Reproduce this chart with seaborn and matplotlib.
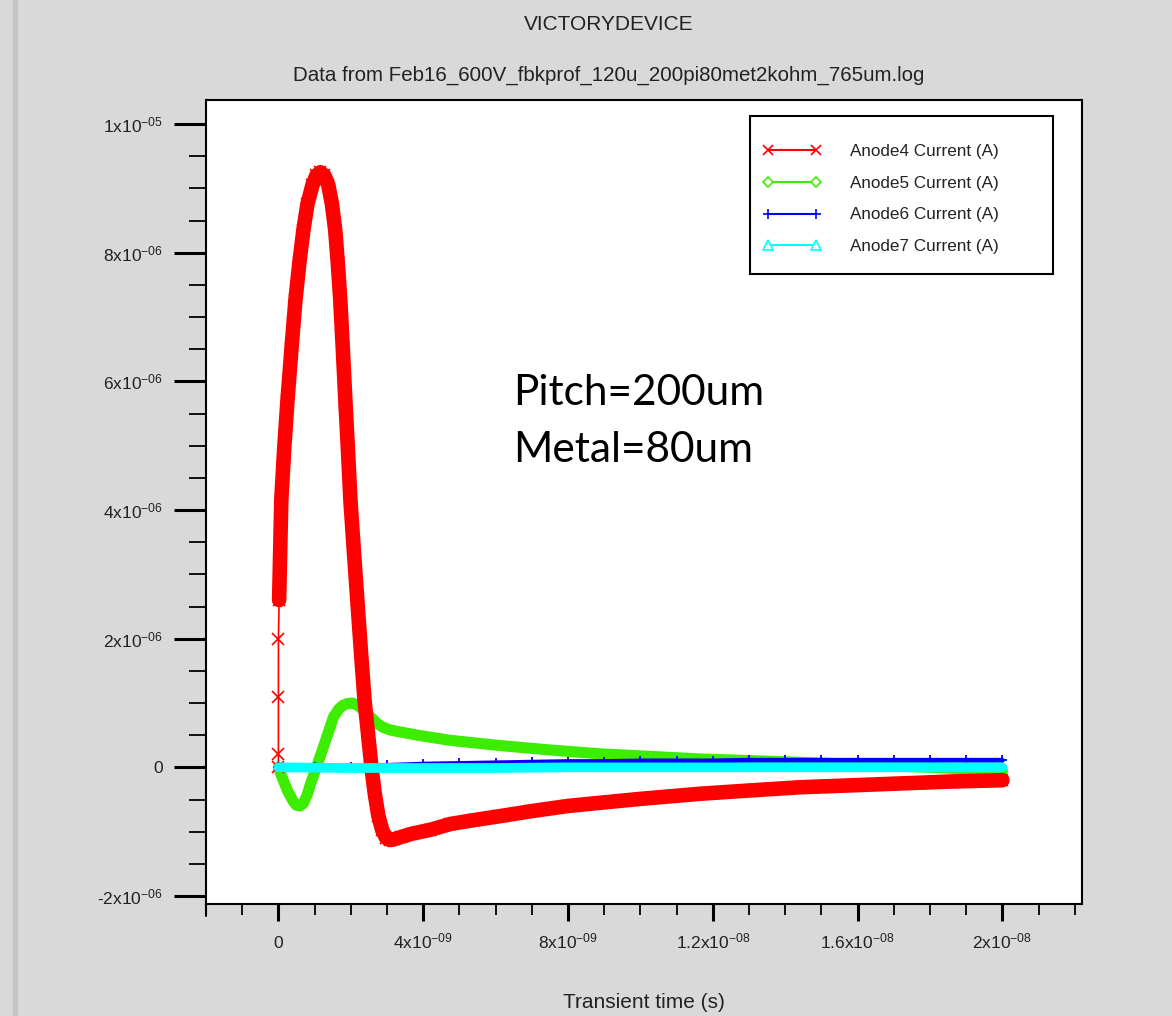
import numpy as np
import pandas as pd
import matplotlib
matplotlib.use("Agg")
import matplotlib.pyplot as plt
from matplotlib.lines import Line2D
from matplotlib.patches import Rectangle
from matplotlib.ticker import MultipleLocator, FuncFormatter
import seaborn as sns

# ---- transient currents (time in ns, current in uA) ----
anode4_t = [0.0, 0.0005, 0.001, 0.0015, 0.02, 0.08, 0.16, 0.25, 0.36, 0.47, 0.58,
            0.69, 0.80, 0.94, 1.05, 1.16, 1.27, 1.38, 1.48, 1.57, 1.64, 1.71, 1.78,
            1.85, 1.92, 1.99, 2.08, 2.18, 2.28, 2.38, 2.48, 2.57, 2.66, 2.76, 2.87,
            2.98, 3.08, 3.18, 3.40, 3.70, 4.20, 4.75, 5.40, 6.10, 7.00, 8.00, 8.90,
            10.0, 11.66, 13.0, 14.4, 15.8, 17.2, 18.6, 20.0]
anode4_i = [0.0, 0.2, 1.1, 2.0, 2.6, 4.15, 4.95, 5.7, 6.5, 7.26, 7.85,
            8.35, 8.75, 9.05, 9.2, 9.25, 9.2, 9.05, 8.75, 8.35, 7.85, 7.26, 6.5,
            5.7, 4.95, 4.15, 3.4, 2.6, 1.8, 1.04, 0.5, 0.0, -0.4, -0.75, -0.98,
            -1.1, -1.13, -1.12, -1.08, -1.03, -0.97, -0.88, -0.82, -0.76, -0.68, -0.6, -0.55,
            -0.49, -0.41, -0.36, -0.31, -0.28, -0.25, -0.22, -0.2]

anode5_t = [0.0, 0.12, 0.25, 0.40, 0.50, 0.60, 0.69, 0.80, 0.88, 1.08, 1.30, 1.52,
            1.66, 1.77, 1.90, 2.04, 2.20, 2.35, 2.55, 2.73, 2.90, 3.09, 3.84, 4.75,
            6.1, 7.5, 8.9, 10.3, 11.66, 13.3, 15.8, 18.0, 20.0]
anode5_i = [0.0, -0.18, -0.36, -0.52, -0.59, -0.6, -0.56, -0.42, -0.27, 0.05, 0.41, 0.78,
            0.9, 0.96, 0.99, 1.0, 0.96, 0.89, 0.78, 0.68, 0.62, 0.58, 0.5, 0.42,
            0.34, 0.27, 0.21, 0.17, 0.13, 0.1, 0.05, 0.0, -0.05]

anode6_t = [0.0, 1.0, 2.0, 3.0, 4.0, 5.0, 6.0, 7.0, 8.0, 9.0, 10.0, 11.0, 12.0,
            13.0, 14.0, 15.0, 16.0, 17.0, 18.0, 19.0, 20.0]
anode6_i = [0.0, 0.0, 0.01, 0.03, 0.05, 0.06, 0.07, 0.08, 0.09, 0.09, 0.1, 0.1, 0.1,
            0.11, 0.11, 0.11, 0.11, 0.11, 0.11, 0.11, 0.11]

anode7_t = [0.0, 2.0, 4.0, 6.0, 8.0, 10.0, 12.0, 14.0, 16.0, 18.0, 20.0]
anode7_i = [0.0, -0.01, -0.01, -0.01, 0.0, 0.0, 0.0, 0.0, 0.0, 0.0, 0.0]

series_labels = ["Anode4 Current (A)", "Anode5 Current (A)",
                 "Anode6 Current (A)", "Anode7 Current (A)"]
series_colors = ["#ff0000", "#3ded00", "#0000ff", "#00ffff"]
series_markers = ["x", "D", "+", "^"]

NS = 1e-9
UA = 1e-6

sns.set_style("ticks")
plt.rcParams["font.family"] = ["Liberation Sans", "DejaVu Sans"]
plt.rcParams["mathtext.default"] = "regular"

BG = "#d9d9d9"
TXT = "#222222"
W, H = 1172, 1016

fig = plt.figure(figsize=(W / 100, H / 100), dpi=100, facecolor=BG)
fig.patches.append(Rectangle((13 / W, 0), 4 / W, 1, transform=fig.transFigure,
                             color="#c4c4c4", zorder=0))

ax = fig.add_axes([206 / W, 1 - 904 / H, 876 / W, 804 / H])
ax.set_facecolor("white")


def frame(t, i):
    return pd.DataFrame({"t": np.asarray(t) * NS, "i": np.asarray(i) * UA})


d4 = frame(anode4_t, anode4_i)
d5 = frame(anode5_t, anode5_i)
d6 = frame(anode6_t, anode6_i)
d7 = frame(anode7_t, anode7_i)

common = dict(x="t", y="i", estimator=None, sort=False, ax=ax, legend=False)

# Anode5: dense green trace
sns.lineplot(data=d5, color=series_colors[1], linewidth=8, zorder=2, **common)

# Anode4: thin start with markers, then dense red trace
sns.lineplot(data=d4, color=series_colors[0], linewidth=1.2, marker="x",
             markersize=8, markeredgewidth=1.2, markeredgecolor=series_colors[0],
             zorder=3, **common)
sns.lineplot(data=d4.iloc[4:], color=series_colors[0], linewidth=10.5, zorder=3, **common)

# Anode6: blue trace with plus markers
sns.lineplot(data=d6, color=series_colors[2], linewidth=3.5, marker="+",
             markersize=7, markeredgewidth=1.3, markeredgecolor=series_colors[2],
             zorder=4, **common)

# Anode7: cyan trace
sns.lineplot(data=d7, color=series_colors[3], linewidth=7, zorder=5, **common)

ax.set_xlim(-2e-9, 2.22e-8)
ax.set_ylim(-2.124e-6, 1.0373e-5)


def sci_label(v, pos):
    if abs(v) < 1e-20:
        return "0"
    exp = int(np.floor(np.log10(abs(v)) + 1e-9))
    mant = round(v / 10 ** exp, 3)
    sign = "-" if exp < 0 else ""
    return f"{mant:g}x10$^{{{sign}{abs(exp):02d}}}$"


ax.xaxis.set_major_locator(MultipleLocator(4e-9))
ax.xaxis.set_minor_locator(MultipleLocator(1e-9))
ax.yaxis.set_major_locator(MultipleLocator(2e-6))
ax.yaxis.set_minor_locator(MultipleLocator(5e-7))
ax.xaxis.set_major_formatter(FuncFormatter(sci_label))
ax.yaxis.set_major_formatter(FuncFormatter(sci_label))

ax.tick_params(axis="x", which="major", direction="out", length=12, width=2.2,
               labelsize=12.5, labelcolor=TXT, pad=20, color="black")
ax.tick_params(axis="x", which="minor", direction="out", length=8, width=1.3, color="black")
ax.tick_params(axis="y", which="major", direction="out", length=23, width=2.2,
               labelsize=12.5, labelcolor=TXT, pad=8, color="black")
ax.tick_params(axis="y", which="minor", direction="out", length=12, width=1.3, color="black")

for sp in ax.spines.values():
    sp.set_visible(True)
    sp.set_color("black")
    sp.set_linewidth(1.5)
ax.add_line(Line2D([0, 0], [0, -0.015], transform=ax.transAxes, color="black",
                   lw=1.5, clip_on=False))

ax.set_xlabel("Transient time (s)", fontsize=15, color=TXT, va="center")
ax.xaxis.set_label_coords(0.5, (904 - 1003) / 804)
ax.set_ylabel("")

# Legend box, then entries with a marker at both ends of each sample line
ax.add_patch(Rectangle((750 / W, 1 - 274 / H), 303 / W, 158 / H,
                       transform=fig.transFigure, facecolor="white",
                       edgecolor="black", linewidth=1.5, zorder=6, clip_on=False))
handles = []
for lab, col, mk in zip(series_labels, series_colors, series_markers):
    open_marker = mk in ("D", "^")
    handles.append(Line2D([0], [0], color=col, lw=1.5, marker=mk,
                          markersize=7 if mk != "D" else 5.5,
                          markeredgewidth=1.2,
                          markerfacecolor="white" if open_marker else col,
                          markeredgecolor=col, label=lab))
leg = ax.legend(handles=handles, loc="upper left",
                bbox_to_anchor=(763 / W, 1 - 144 / H),
                bbox_transform=fig.transFigure, numpoints=2,
                fontsize=12.3, handlelength=3.4, handletextpad=1.7, labelspacing=0.98,
                borderpad=0, borderaxespad=0, frameon=False)
leg.set_zorder(7)
for t in leg.get_texts():
    t.set_color(TXT)

fig.text(609 / W, 1 - 24 / H, "VICTORYDEVICE", ha="center", va="center",
         fontsize=15, color=TXT)
fig.text(609 / W, 1 - 75 / H,
         "Data from Feb16_600V_fbkprof_120u_200pi80met2kohm_765um.log",
         ha="center", va="center", fontsize=14.8, color=TXT)

fig.text(513 / W, 1 - 405 / H, "Pitch=200um", fontsize=30.5, family="Lato",
         va="baseline", color="black")
fig.text(513 / W, 1 - 462 / H, "Metal=80um", fontsize=30.5, family="Lato",
         va="baseline", color="black")

for lbl in ax.get_xticklabels():
    lbl.set_va("baseline")

fig.savefig("out.png", dpi=100, facecolor=BG)
